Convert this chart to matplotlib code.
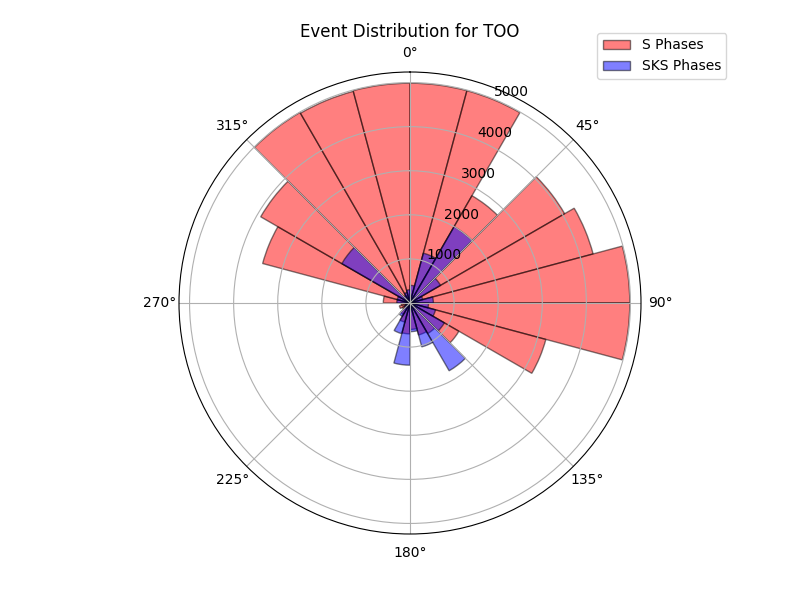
import numpy as np
import matplotlib
matplotlib.use('Agg')
import matplotlib.pyplot as plt

# Back azimuth bins (degrees, left edge of each 15 degree bin)
bin_start_deg = [0, 15, 30, 45, 60, 75, 90, 105, 120, 135, 150, 165,
                 180, 195, 210, 225, 240, 255, 270, 285, 300, 315, 330, 345]
bin_width_deg = 15

# Event counts per bin
s_counts = [4985, 4985, 2810, 4050, 4300, 4985, 4985, 3190, 1280, 800, 750, 600,
            700, 450, 300, 200, 250, 200, 605, 3460, 3910, 4990, 4970, 4985]
sks_counts = [400, 1170, 2000, 800, 300, 530, 420, 600, 900, 1775, 1030, 650,
              1410, 720, 350, 150, 100, 100, 300, 300, 1785, 200, 250, 300]

theta = np.radians(bin_start_deg)
width = np.radians(bin_width_deg)

fig = plt.figure(figsize=(8, 6), dpi=100)
ax = fig.add_subplot(111, projection='polar')
ax.set_theta_zero_location('N')
ax.set_theta_direction(-1)

ax.bar(theta, s_counts, width=width, align='edge', color='red', alpha=0.5,
       edgecolor='black', label='S Phases')
ax.bar(theta, sks_counts, width=width, align='edge', color='blue', alpha=0.5,
       edgecolor='black', label='SKS Phases')

ax.set_title('Event Distribution for TOO')
ax.legend(loc='upper right', bbox_to_anchor=(1.2, 1.1))

plt.savefig('out.png')
